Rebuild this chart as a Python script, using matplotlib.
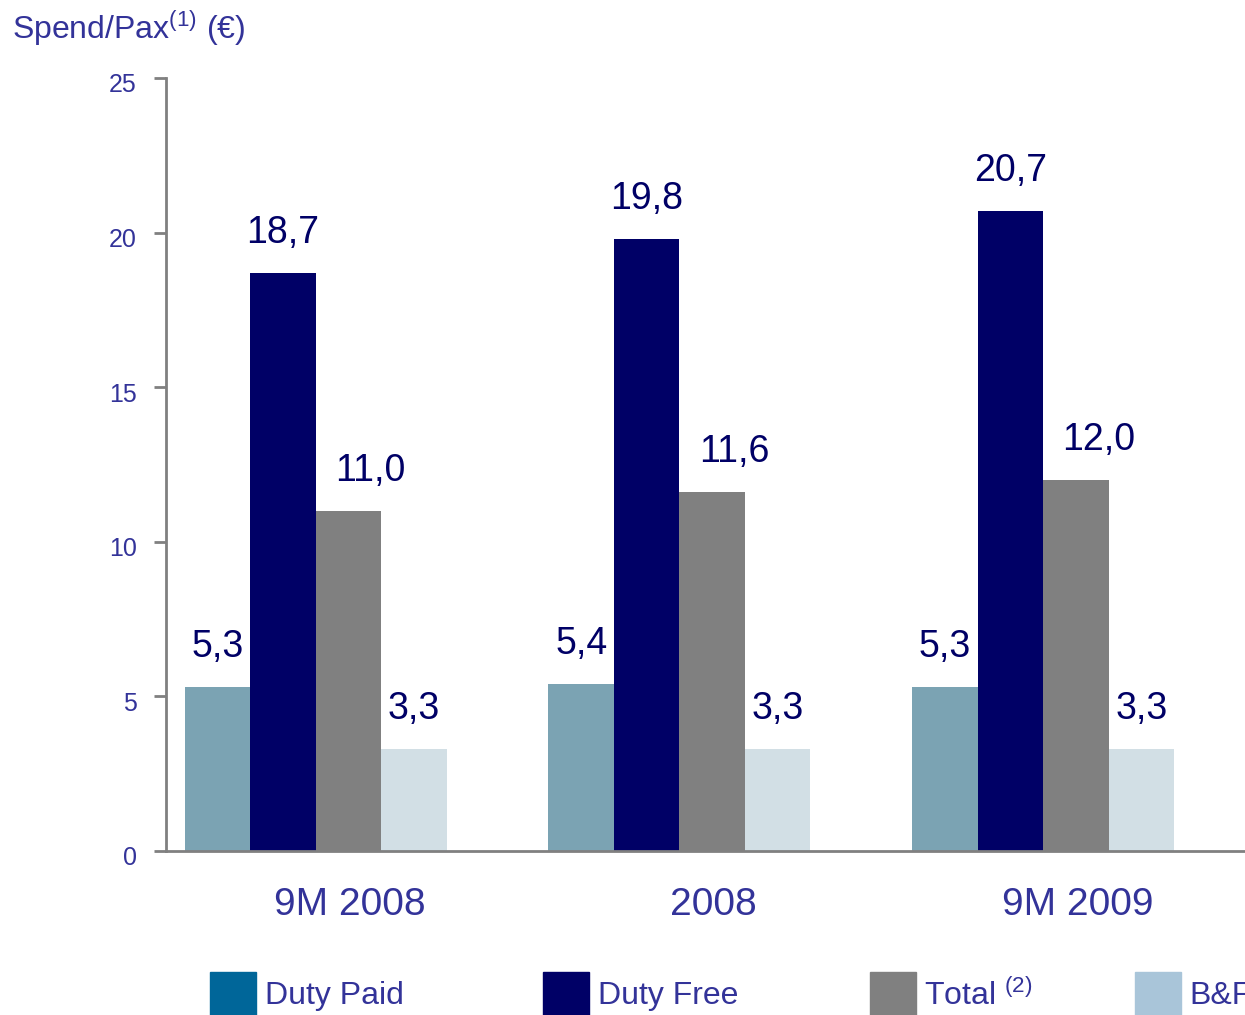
import numpy as np
import matplotlib.pyplot as plt
from matplotlib.patches import Rectangle
from matplotlib.transforms import ScaledTranslation

plt.rcParams['font.family'] = ['Liberation Sans', 'DejaVu Sans']
plt.rcParams['mathtext.fontset'] = 'custom'
plt.rcParams['mathtext.rm'] = 'Liberation Sans'

# ---------- data ----------
categories = ['9M 2008', '2008', '9M 2009']
series = ['Duty Paid', 'Duty Free', 'Total $^{(2)}$', 'B&F']
duty_paid = [5.3, 5.4, 5.3]
duty_free = [18.7, 19.8, 20.7]
total = [11.0, 11.6, 12.0]
bf = [3.3, 3.3, 3.3]
values = [duty_paid, duty_free, total, bf]

bar_colors = ['#7BA3B3', '#000066', '#808080', '#D2DFE5']
legend_colors = ['#006699', '#000066', '#808080', '#A9C5D9']
text_blue = '#333399'
label_navy = '#000066'

# ---------- figure ----------
fig = plt.figure(figsize=(12.45, 10.15), dpi=100)
ax = fig.add_axes([0.1333, 0.1616, 0.8667, 0.7616])

x = np.arange(len(categories))
width = 0.18
offsets = [-1.5, -0.5, 0.5, 1.5]
label_dx = [0, 0, 16, 0]

for vals, off, col, dx in zip(values, offsets, bar_colors, label_dx):
    pos = x + off * width
    ax.bar(pos, vals, width=width, color=col, linewidth=0)
    for p, v in zip(pos, vals):
        ax.annotate(f'{v:.1f}'.replace('.', ','), (p, v),
                    xytext=(dx, 16), textcoords='offset points',
                    ha='center', va='bottom', fontsize=27, color=label_navy)

ax.set_xlim(-0.411, 2.554)
ax.set_ylim(0, 25)
ax.set_yticks([0, 5, 10, 15, 20, 25])
ax.set_xticks(x + 0.094)
ax.set_xticklabels(categories)

for s in ['top', 'right']:
    ax.spines[s].set_visible(False)
for s in ['left', 'bottom']:
    ax.spines[s].set_color('#808080')
    ax.spines[s].set_linewidth(2)

ax.tick_params(axis='y', colors='#808080', length=9, width=2,
               labelcolor=text_blue, labelsize=18, pad=12)
ax.tick_params(axis='x', length=0, labelcolor=text_blue, labelsize=28, pad=26)

# y labels sit a few pixels below their ticks in the original
shift = ScaledTranslation(0, -5 / 100, fig.dpi_scale_trans)
for lbl in ax.get_yticklabels():
    lbl.set_transform(lbl.get_transform() + shift)

# title
fig.text(12 / 1245, 1 - 28 / 1015, 'Spend/Pax$^{(1)}$ (€)', fontsize=23,
         color=text_blue, ha='left', va='center')

# ---------- legend (hand-placed, runs off the right edge like the original) ----------
sq_x = [210, 543, 870, 1135]
txt_x = [265, 598, 924, 1189]
for sx, tx, col, name in zip(sq_x, txt_x, legend_colors, series):
    fig.patches.append(Rectangle((sx / 1245, 0), 46 / 1245, 43 / 1015,
                                 transform=fig.transFigure, color=col))
    fig.text(tx / 1245, 1 - 996 / 1015, name, fontsize=23, color=text_blue,
             ha='left', va='center')

plt.savefig('out.png', dpi=100)
plt.close()
